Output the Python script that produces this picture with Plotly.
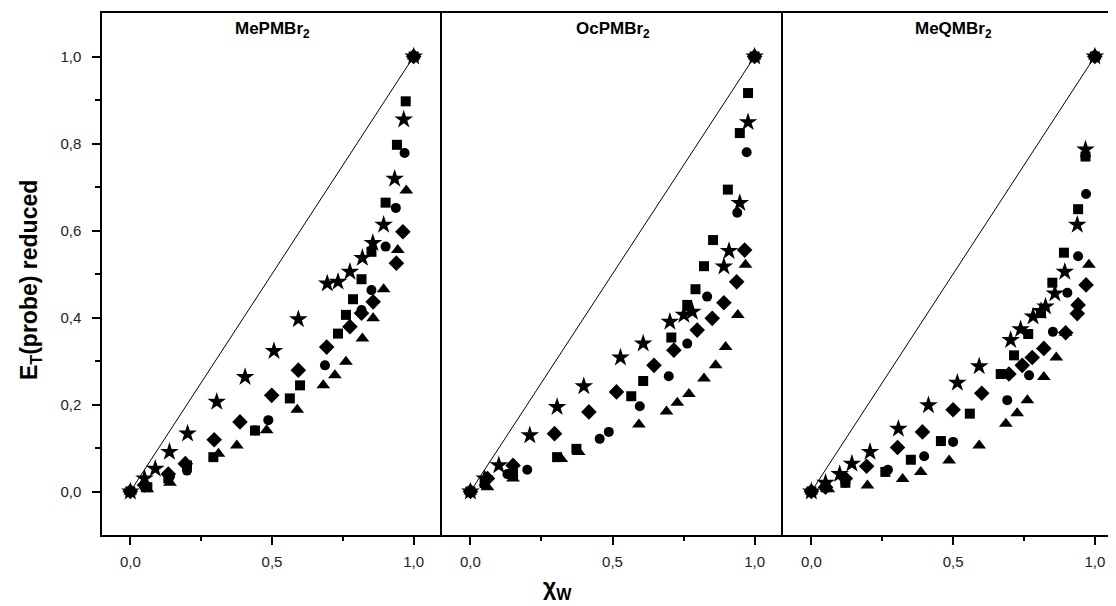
import plotly.graph_objects as go

########## data (x = water mole fraction) ##########
# panel 1: MePMBr2
me_star_x = [0, 0.05, 0.088, 0.138, 0.202, 0.305, 0.405, 0.507, 0.593, 0.695, 0.733, 0.775, 0.819, 0.856, 0.894, 0.933, 0.965, 1.0]
me_star_y = [0, 0.03, 0.052, 0.091, 0.133, 0.206, 0.263, 0.323, 0.396, 0.478, 0.482, 0.505, 0.537, 0.571, 0.613, 0.719, 0.855, 1.0]
me_diam_x = [0, 0.05, 0.134, 0.194, 0.296, 0.387, 0.499, 0.593, 0.693, 0.775, 0.816, 0.857, 0.939, 0.962, 1.0]
me_diam_y = [0, 0.015, 0.04, 0.064, 0.119, 0.160, 0.221, 0.279, 0.332, 0.379, 0.41, 0.436, 0.525, 0.597, 1.0]
me_sq_x = [0, 0.06, 0.134, 0.2, 0.293, 0.44, 0.563, 0.599, 0.733, 0.761, 0.786, 0.816, 0.851, 0.901, 0.941, 0.972, 1.0]
me_sq_y = [0, 0.01, 0.03, 0.06, 0.079, 0.14, 0.214, 0.244, 0.363, 0.406, 0.442, 0.488, 0.551, 0.664, 0.797, 0.897, 1.0]
me_circ_x = [0, 0.05, 0.14, 0.2, 0.44, 0.487, 0.687, 0.775, 0.816, 0.851, 0.901, 0.937, 0.968, 1.0]
me_circ_y = [0, 0.01, 0.035, 0.048, 0.141, 0.164, 0.290, 0.379, 0.417, 0.463, 0.563, 0.652, 0.778, 1.0]
me_tri_x = [0, 0.06, 0.14, 0.311, 0.376, 0.481, 0.589, 0.681, 0.722, 0.761, 0.819, 0.857, 0.894, 0.944, 0.974, 1.0]
me_tri_y = [0, 0.005, 0.02, 0.087, 0.106, 0.141, 0.188, 0.244, 0.267, 0.298, 0.352, 0.398, 0.465, 0.555, 0.692, 1.0]

# panel 2: OcPMBr2
oc_star_x = [0, 0.05, 0.1, 0.209, 0.305, 0.399, 0.528, 0.608, 0.702, 0.751, 0.781, 0.892, 0.91, 0.948, 0.977, 1.0]
oc_star_y = [0, 0.03, 0.06, 0.129, 0.194, 0.242, 0.308, 0.340, 0.390, 0.406, 0.413, 0.517, 0.553, 0.663, 0.849, 1.0]
oc_diam_x = [0, 0.06, 0.15, 0.296, 0.417, 0.514, 0.646, 0.716, 0.798, 0.851, 0.892, 0.937, 0.965, 1.0]
oc_diam_y = [0, 0.03, 0.06, 0.133, 0.183, 0.229, 0.290, 0.325, 0.371, 0.398, 0.434, 0.482, 0.555, 1.0]
oc_sq_x = [0, 0.05, 0.15, 0.305, 0.373, 0.566, 0.608, 0.707, 0.763, 0.792, 0.822, 0.854, 0.906, 0.948, 0.977, 1.0]
oc_sq_y = [0, 0.02, 0.04, 0.079, 0.098, 0.219, 0.254, 0.354, 0.429, 0.465, 0.518, 0.578, 0.694, 0.824, 0.916, 1.0]
oc_circ_x = [0, 0.05, 0.13, 0.2, 0.455, 0.487, 0.596, 0.698, 0.763, 0.833, 0.939, 0.972, 1.0]
oc_circ_y = [0, 0.015, 0.04, 0.05, 0.121, 0.137, 0.196, 0.265, 0.340, 0.448, 0.641, 0.780, 1.0]
oc_tri_x = [0, 0.06, 0.15, 0.32, 0.381, 0.593, 0.69, 0.728, 0.769, 0.822, 0.863, 0.898, 0.941, 0.968, 1.0]
oc_tri_y = [0, 0.01, 0.03, 0.075, 0.091, 0.154, 0.184, 0.204, 0.224, 0.260, 0.290, 0.332, 0.406, 0.521, 1.0]

# panel 3: MeQMBr2
mq_star_x = [0, 0.05, 0.1, 0.143, 0.207, 0.307, 0.413, 0.515, 0.592, 0.703, 0.738, 0.782, 0.81, 0.826, 0.859, 0.894, 0.938, 0.967, 1.0]
mq_star_y = [0, 0.02, 0.04, 0.064, 0.091, 0.144, 0.198, 0.250, 0.288, 0.348, 0.373, 0.402, 0.415, 0.425, 0.455, 0.505, 0.613, 0.786, 1.0]
mq_diam_x = [0, 0.05, 0.12, 0.195, 0.304, 0.392, 0.5, 0.601, 0.697, 0.744, 0.779, 0.82, 0.897, 0.938, 0.941, 0.969, 1.0]
mq_diam_y = [0, 0.01, 0.03, 0.058, 0.101, 0.137, 0.188, 0.226, 0.270, 0.290, 0.308, 0.329, 0.365, 0.409, 0.429, 0.475, 1.0]
mq_sq_x = [0, 0.05, 0.12, 0.261, 0.351, 0.457, 0.559, 0.668, 0.715, 0.765, 0.81, 0.85, 0.891, 0.941, 0.967, 1.0]
mq_sq_y = [0, 0.01, 0.02, 0.045, 0.073, 0.116, 0.179, 0.270, 0.313, 0.362, 0.41, 0.480, 0.549, 0.649, 0.770, 1.0]
mq_circ_x = [0, 0.05, 0.12, 0.27, 0.398, 0.5, 0.691, 0.768, 0.852, 0.903, 0.941, 0.969, 1.0]
mq_circ_y = [0, 0.008, 0.02, 0.05, 0.081, 0.114, 0.210, 0.267, 0.367, 0.457, 0.541, 0.684, 1.0]
mq_tri_x = [0, 0.06, 0.198, 0.322, 0.386, 0.486, 0.592, 0.686, 0.726, 0.762, 0.82, 0.864, 0.897, 0.979, 1.0]
mq_tri_y = [0, 0.005, 0.014, 0.029, 0.045, 0.071, 0.106, 0.156, 0.180, 0.210, 0.263, 0.308, 0.365, 0.521, 1.0]

panel_titles = ["MePMBr<sub>2</sub>", "OcPMBr<sub>2</sub>", "MeQMBr<sub>2</sub>"]
x_ticks = [0, 0.5, 1.0]
y_ticks = [0, 0.2, 0.4, 0.6, 0.8, 1.0]

panels = [
    [(me_sq_x, me_sq_y), (me_circ_x, me_circ_y), (me_tri_x, me_tri_y), (me_diam_x, me_diam_y), (me_star_x, me_star_y)],
    [(oc_sq_x, oc_sq_y), (oc_circ_x, oc_circ_y), (oc_tri_x, oc_tri_y), (oc_diam_x, oc_diam_y), (oc_star_x, oc_star_y)],
    [(mq_sq_x, mq_sq_y), (mq_circ_x, mq_circ_y), (mq_tri_x, mq_tri_y), (mq_diam_x, mq_diam_y), (mq_star_x, mq_star_y)],
]
symbols = ["square", "circle", "triangle-up", "diamond", "star"]
sizes = [10, 10, 12, 12, 14]

###############################################################################
# page body has an 8px margin, so the figure is 8px smaller than the window
W, H = 1108, 598
L, R, T, B = 94, 0, 5, 71
pw = W - L - R
ph = H - T - B
domains = [[0, 340 / pw], [340 / pw, 681 / pw], [681 / pw, 1]]
x_ranges = [[-0.1, 1.1], [-0.1, 1.1], [-0.1, -0.1 + 333 / 283.5]]

tick_font = dict(family="Liberation Sans Narrow, Liberation Sans, Arial", size=15, color="#222")
bold_font = "Liberation Sans, Arial"

fig = go.Figure()
for i, series in enumerate(panels):
    xa = "x" if i == 0 else f"x{i + 1}"
    ya = "y" if i == 0 else f"y{i + 1}"
    # diagonal reference line
    fig.add_trace(go.Scatter(x=[0, 1], y=[0, 1], mode="lines", xaxis=xa, yaxis=ya,
                             line=dict(color="black", width=1), showlegend=False, hoverinfo="skip"))
    for (sx, sy), sym, sz in zip(series, symbols, sizes):
        fig.add_trace(go.Scatter(x=sx, y=sy, mode="markers", xaxis=xa, yaxis=ya, showlegend=False,
                                 marker=dict(symbol=sym, size=sz, color="black",
                                             line=dict(width=0))))

axis_common = dict(showline=True, linecolor="black", linewidth=1.5, showgrid=False, zeroline=False)
for i in range(3):
    xkey = "xaxis" if i == 0 else f"xaxis{i + 1}"
    ykey = "yaxis" if i == 0 else f"yaxis{i + 1}"
    ya = "y" if i == 0 else f"y{i + 1}"
    xa = "x" if i == 0 else f"x{i + 1}"
    fig.layout[xkey] = dict(axis_common, domain=domains[i], range=x_ranges[i], anchor=ya, mirror=True,
                            tickmode="array", tickvals=x_ticks, tickformat=".1f",
                            ticks="outside", ticklen=8, tickwidth=1.5, tickcolor="black",
                            ticklabelstandoff=4,
                            minor=dict(tickmode="array", tickvals=[0.25, 0.75], ticks="outside",
                                       ticklen=4, tickwidth=1.5, tickcolor="black", showgrid=False),
                            tickfont=tick_font)
    if i == 0:
        fig.layout[ykey] = dict(axis_common, range=[-0.1, 1.1], anchor=xa, domain=[0, 1],
                                tickmode="array", tickvals=y_ticks, tickformat=".1f",
                                ticks="outside", ticklen=8, tickwidth=1.5, tickcolor="black",
                                ticklabelstandoff=8,
                                minor=dict(tickmode="array", tickvals=[0.1, 0.3, 0.5, 0.7, 0.9],
                                           ticks="outside", ticklen=5, tickwidth=1.5,
                                           tickcolor="black", showgrid=False),
                                tickfont=tick_font)
    else:
        fig.layout[ykey] = dict(axis_common, range=[-0.1, 1.1], anchor=xa, domain=[0, 1],
                                showticklabels=False, ticks="", matches="y")

# panel titles
for i, t in enumerate(panel_titles):
    xa = "x" if i == 0 else f"x{i + 1}"
    fig.add_annotation(x=0.5, y=1.06, xref=xa, yref="y", text="<b>" + t + "</b>", showarrow=False,
                       xanchor="center", yanchor="middle",
                       font=dict(family=bold_font, size=17, color="black"))

# axis titles
fig.add_annotation(x=(22 - L) / pw, y=(H - B - 272) / ph, xref="paper", yref="paper", textangle=-90,
                   showarrow=False, xanchor="center", yanchor="middle",
                   text="<b>E<sub>T</sub>(probe) reduced</b>",
                   font=dict(family=bold_font, size=23, color="black"))
fig.add_annotation(x=(549 - L) / pw, y=-(580 - (H - B)) / ph, xref="paper", yref="paper",
                   showarrow=False, xanchor="center", yanchor="middle", text="<b>χ<sub>W</sub></b>",
                   font=dict(family=bold_font, size=23, color="black"))

fig.update_layout(width=W, height=H, margin=dict(l=L, r=R, t=T, b=B),
                  plot_bgcolor="white", paper_bgcolor="white", separators=",.",
                  showlegend=False)

fig.write_html("out.html")
